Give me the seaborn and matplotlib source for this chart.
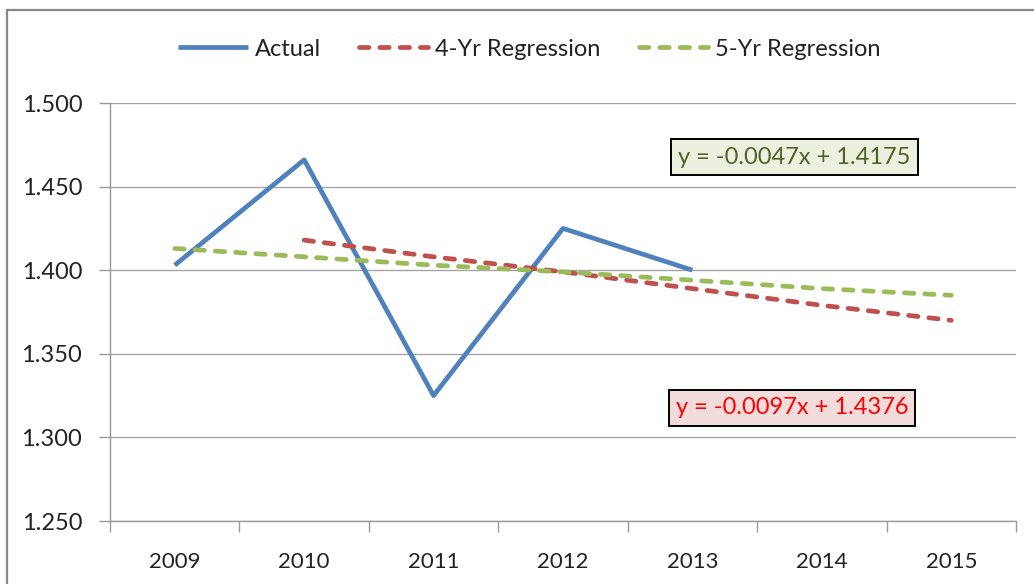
import matplotlib
matplotlib.use("Agg")
import matplotlib.pyplot as plt
from matplotlib.lines import Line2D
import seaborn as sns
import pandas as pd
import numpy as np

years = ["2009", "2010", "2011", "2012", "2013", "2014", "2015"]
actual = [1.403, 1.466, 1.325, 1.425, 1.400, None, None]
reg4 = [None, 1.418, 1.408, 1.399, 1.389, 1.379, 1.370]
reg5 = [1.413, 1.408, 1.403, 1.399, 1.394, 1.389, 1.385]
eq5 = "y = -0.0047x + 1.4175"
eq4 = "y = -0.0097x + 1.4376"
yticks = [1.250, 1.300, 1.350, 1.400, 1.450, 1.500]

sns.set_theme(style="white")
plt.rcParams["font.family"] = ["Lato", "DejaVu Sans"]

fig = plt.figure(figsize=(10.34, 5.84), dpi=100)
ax = fig.add_axes([110/1034, 1-521/584, (1016-110)/1034, (521-103)/584])

idx = np.arange(len(years))
df = pd.DataFrame({"pos": idx, "Actual": actual, "4-Yr Regression": reg4, "5-Yr Regression": reg5})

blue, red, green = "#4F81BD", "#C0504D", "#9BBB59"
lw = 3.4
sns.lineplot(data=df.dropna(subset=["Actual"]), x="pos", y="Actual", ax=ax, color=blue, lw=lw,
             label="Actual", solid_capstyle="butt")
sns.lineplot(data=df.dropna(subset=["4-Yr Regression"]), x="pos", y="4-Yr Regression", ax=ax,
             color=red, lw=lw, label="4-Yr Regression", dashes=False)
sns.lineplot(data=df, x="pos", y="5-Yr Regression", ax=ax, color=green, lw=lw,
             label="5-Yr Regression", dashes=False)
for ln in ax.lines[1:]:
    ln.set_dashes((2.0, 2.3))
    ln.set_dash_capstyle("round")

ax.set_xlim(-0.5, len(years) - 0.5)
ax.set_ylim(1.25, 1.50)
ax.set_xticks(idx)
ax.set_xticklabels(years, fontsize=16, color="#222222")
ax.set_xticks(np.arange(len(years) + 1) - 0.5, minor=True)
ax.tick_params(axis="x", which="major", length=0, pad=22)
ax.tick_params(axis="x", which="minor", length=8, width=1, color="#999999", direction="out", bottom=True)
ax.set_yticks(yticks)
ax.set_yticklabels([f"{v:.3f}" for v in yticks], fontsize=17, color="#222222")
ax.tick_params(axis="y", which="major", length=8, width=1, color="#999999", direction="out", left=True, pad=12)
ax.set_xlabel("")
ax.set_ylabel("")
ax.grid(axis="y", color="#A6A6A6", lw=1)
ax.grid(axis="x", visible=False)
for s in ["top", "right"]:
    ax.spines[s].set_visible(False)
for s in ["left", "bottom"]:
    ax.spines[s].set_color("#999999")
    ax.spines[s].set_linewidth(1)

handles, labels = ax.get_legend_handles_labels()
ax.legend_.remove()
leg = fig.legend(handles, labels, loc="center", bbox_to_anchor=(0.512, 1-49/584), ncol=3,
                 frameon=False, fontsize=17, handlelength=2.95, columnspacing=1.6, handletextpad=0.3)
for t in leg.get_texts():
    t.set_color("#222222")

ax.text(4.79, 1.4677, eq5, fontsize=17, color="#4F6228", ha="center", va="center",
        bbox=dict(boxstyle="square,pad=0.3", fc="#EBF1DE", ec="black", lw=1.4))
ax.text(4.77, 1.3176, eq4, fontsize=17, color="#FF0000", ha="center", va="center",
        bbox=dict(boxstyle="square,pad=0.3", fc="#F2DCDB", ec="black", lw=1.4))

fig.add_artist(Line2D([7/1034, 1], [1-10/584, 1-10/584], transform=fig.transFigure, color="#888888", lw=1.6))
fig.add_artist(Line2D([7/1034, 7/1034], [0, 1-10/584], transform=fig.transFigure, color="#888888", lw=1.6))

fig.savefig("out.png", dpi=100)
